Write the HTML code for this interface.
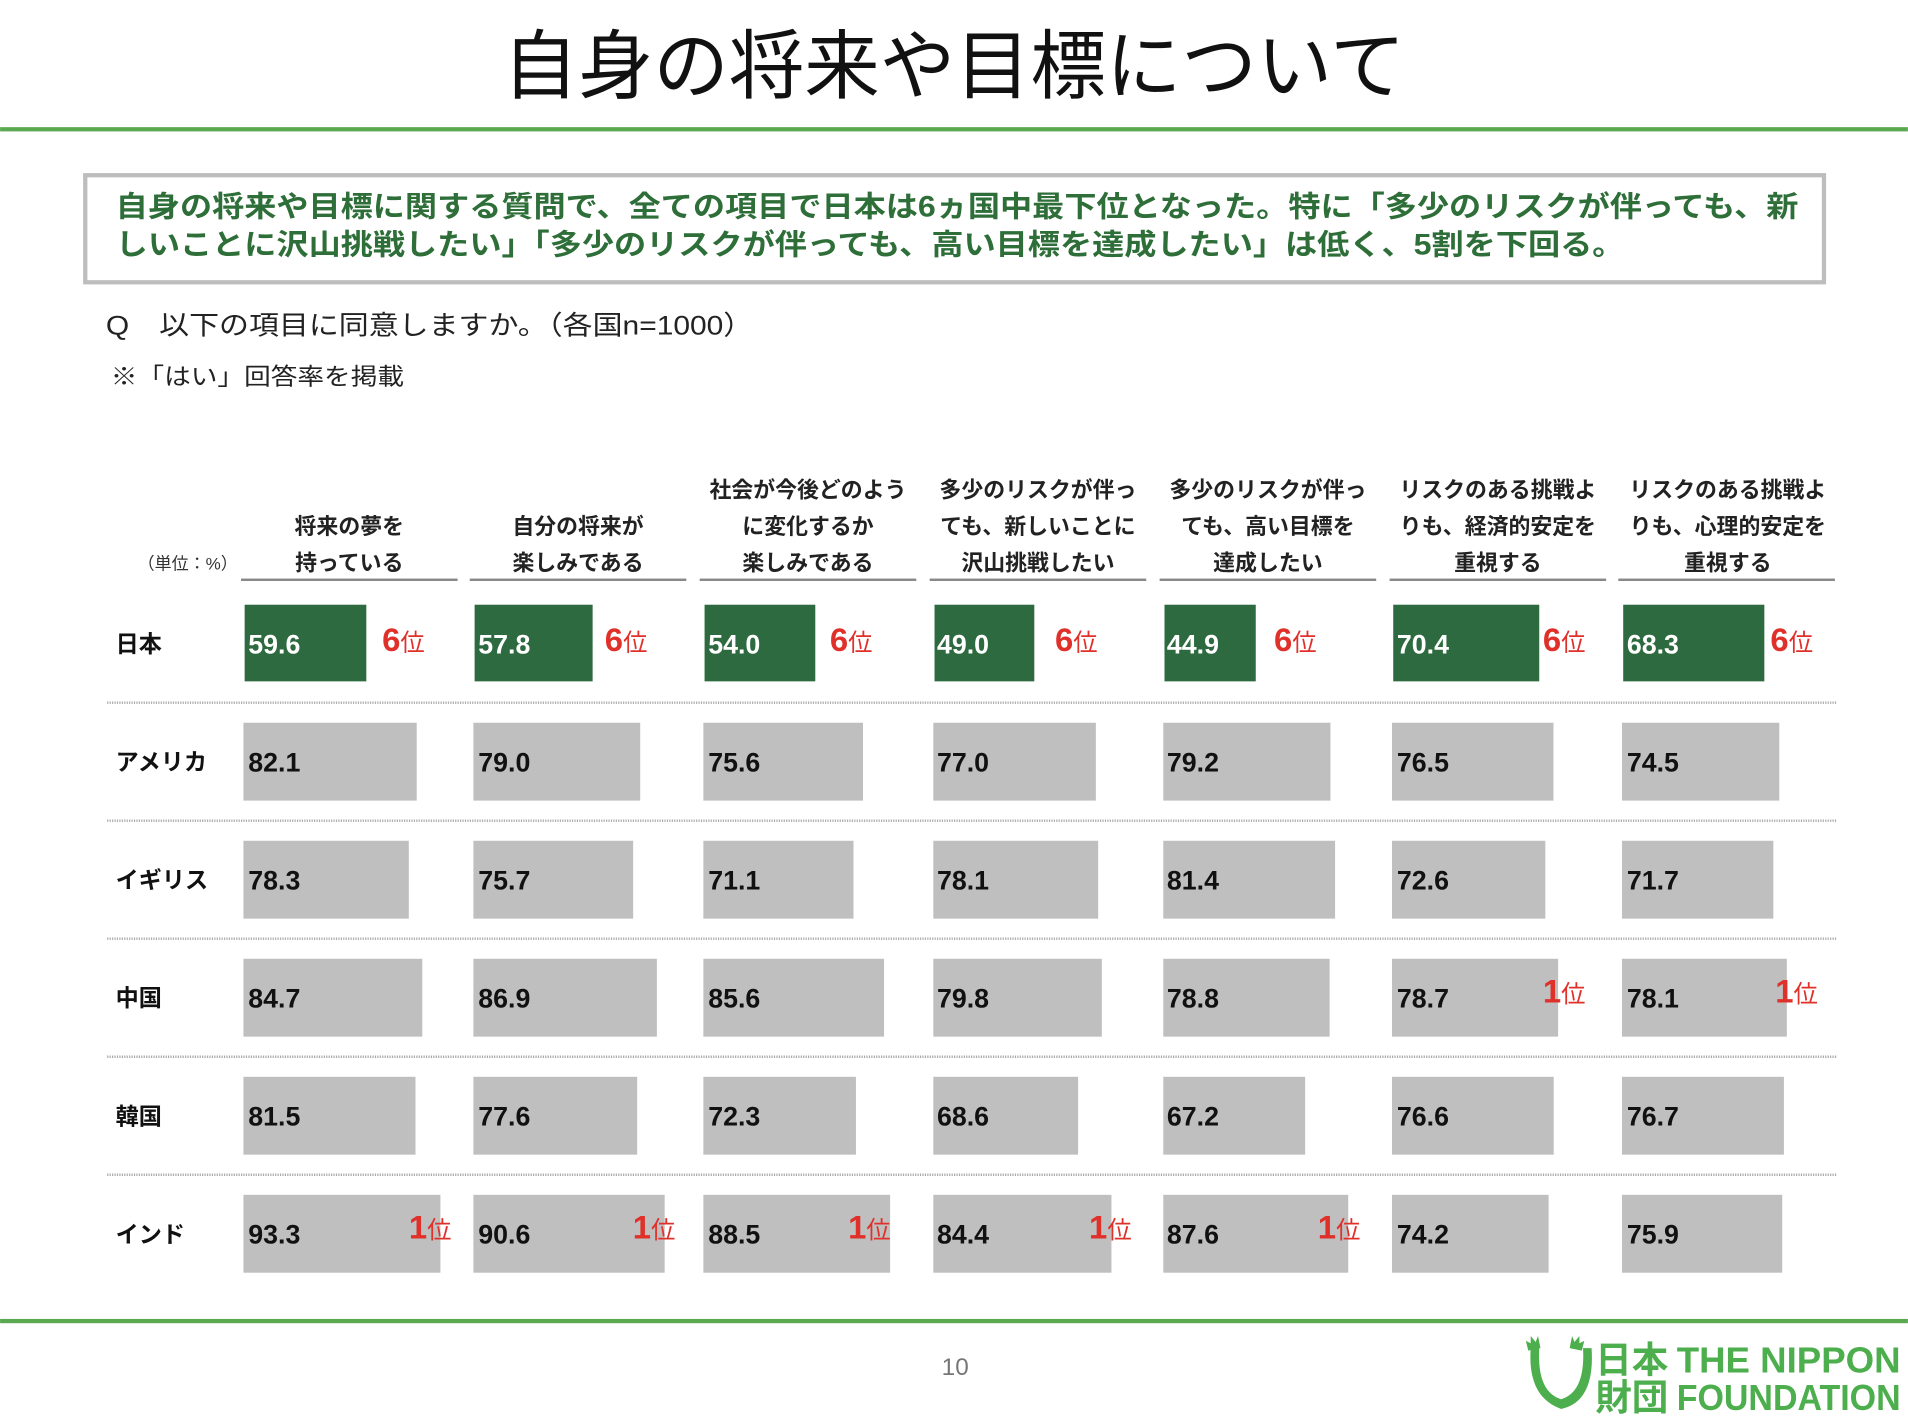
<!DOCTYPE html>
<html><head><meta charset="utf-8"><style>
html,body{margin:0;padding:0;background:#fff;}
svg{display:block;}
text{font-family:"Liberation Sans","Noto Sans CJK JP",sans-serif;}
.h{font-size:18px;font-weight:bold;text-anchor:middle;fill:#222;}
.c{font-size:19px;font-weight:bold;fill:#111;}
.v{font-size:22px;font-weight:bold;fill:#111;}
.w{font-size:22px;font-weight:bold;fill:#fff;}
.g{fill:#bfbfbf;}
.j{fill:#2d6a3f;}
.r{fill:#e0302a;font-weight:bold;font-size:27px;}
.r tspan{font-size:20px;font-weight:normal;}
</style></head><body>
<svg width="1908" height="1426" viewBox="0 0 1568 1172" xmlns="http://www.w3.org/2000/svg">
<rect width="1568" height="1172" fill="#fff"/>
<text x="784" y="76" text-anchor="middle" style="font-size:62px;fill:#111;">自身の将来や目標について</text>
<rect x="0" y="104.5" width="1568" height="3.5" fill="#5aa850"/>
<rect x="70" y="144" width="1429" height="88" fill="#fff" stroke="#bdbdbd" stroke-width="3.5"/>
<text x="95" y="178" textLength="1383" lengthAdjust="spacingAndGlyphs" style="font-size:24px;font-weight:bold;fill:#2e6e38;">自身の将来や目標に関する質問で、全ての項目で日本は6ヵ国中最下位となった。特に「多少のリスクが伴っても、新</text>
<text x="95" y="209" textLength="1240" lengthAdjust="spacingAndGlyphs" style="font-size:24px;font-weight:bold;fill:#2e6e38;">しいことに沢山挑戦したい」「多少のリスクが伴っても、高い目標を達成したい」は低く、5割を下回る。</text>
<text x="87" y="275" textLength="532" lengthAdjust="spacingAndGlyphs" style="font-size:22px;fill:#222;">Q　以下の項目に同意しますか。（各国n=1000）</text>
<text x="91" y="316" textLength="241" lengthAdjust="spacingAndGlyphs" style="font-size:19px;fill:#222;">※「はい」回答率を掲載</text>
<text x="113" y="468" style="font-size:14px;fill:#333;">（単位：%）</text>
<g class="h">
<text x="287" y="439">将来の夢を</text><text x="287" y="469">持っている</text>
<text x="475" y="439">自分の将来が</text><text x="475" y="469">楽しみである</text>
<text x="664" y="409">社会が今後どのよう</text><text x="664" y="439">に変化するか</text><text x="664" y="469">楽しみである</text>
<text x="853" y="409">多少のリスクが伴っ</text><text x="853" y="439">ても、新しいことに</text><text x="853" y="469">沢山挑戦したい</text>
<text x="1042" y="409">多少のリスクが伴っ</text><text x="1042" y="439">ても、高い目標を</text><text x="1042" y="469">達成したい</text>
<text x="1231" y="409">リスクのある挑戦よ</text><text x="1231" y="439">りも、経済的安定を</text><text x="1231" y="469">重視する</text>
<text x="1420" y="409">リスクのある挑戦よ</text><text x="1420" y="439">りも、心理的安定を</text><text x="1420" y="469">重視する</text>
</g>
<g fill="#888">
<rect x="198" y="475.5" width="178" height="2"/><rect x="386" y="475.5" width="178" height="2"/>
<rect x="575" y="475.5" width="178" height="2"/><rect x="764" y="475.5" width="178" height="2"/>
<rect x="953" y="475.5" width="178" height="2"/><rect x="1142" y="475.5" width="178" height="2"/>
<rect x="1330" y="475.5" width="178" height="2"/>
</g>
<g stroke="#aaa" stroke-width="2" stroke-dasharray="1,1">
<line x1="88" y1="577.5" x2="1510" y2="577.5"/><line x1="88" y1="674.5" x2="1510" y2="674.5"/>
<line x1="88" y1="771.5" x2="1510" y2="771.5"/><line x1="88" y1="868.5" x2="1510" y2="868.5"/>
<line x1="88" y1="965.5" x2="1510" y2="965.5"/>
</g>
<g class="c">
<text x="95" y="536">日本</text><text x="95" y="633">アメリカ</text><text x="95" y="730">イギリス</text>
<text x="95" y="827">中国</text><text x="95" y="924">韓国</text><text x="95" y="1021">インド</text>
</g>
<g class="j">
<rect x="201" y="497" width="100" height="63"/><rect x="390" y="497" width="97" height="63"/>
<rect x="579" y="497" width="91" height="63"/><rect x="768" y="497" width="82" height="63"/>
<rect x="957" y="497" width="75" height="63"/><rect x="1145" y="497" width="120" height="63"/>
<rect x="1334" y="497" width="116" height="63"/>
</g>
<g class="w">
<text x="204" y="537">59.6</text><text x="393" y="537">57.8</text><text x="582" y="537">54.0</text>
<text x="770" y="537">49.0</text><text x="959" y="537">44.9</text><text x="1148" y="537">70.4</text>
<text x="1337" y="537">68.3</text>
</g>
<g class="r">
<text x="314" y="535">6<tspan>位</tspan></text><text x="497" y="535">6<tspan>位</tspan></text>
<text x="682" y="535">6<tspan>位</tspan></text><text x="867" y="535">6<tspan>位</tspan></text>
<text x="1047" y="535">6<tspan>位</tspan></text><text x="1268" y="535">6<tspan>位</tspan></text>
<text x="1455" y="535">6<tspan>位</tspan></text>
</g>
<g class="g">
<rect x="200" y="594" width="142.4" height="64"/><rect x="389" y="594" width="137.1" height="64"/>
<rect x="578" y="594" width="131.2" height="64"/><rect x="767" y="594" width="133.6" height="64"/>
<rect x="956" y="594" width="137.4" height="64"/><rect x="1144" y="594" width="132.7" height="64"/>
<rect x="1333" y="594" width="129.3" height="64"/>
<rect x="200" y="691" width="135.9" height="64"/><rect x="389" y="691" width="131.3" height="64"/>
<rect x="578" y="691" width="123.4" height="64"/><rect x="767" y="691" width="135.5" height="64"/>
<rect x="956" y="691" width="141.2" height="64"/><rect x="1144" y="691" width="126" height="64"/>
<rect x="1333" y="691" width="124.4" height="64"/>
<rect x="200" y="788" width="147" height="64"/><rect x="389" y="788" width="150.8" height="64"/>
<rect x="578" y="788" width="148.5" height="64"/><rect x="767" y="788" width="138.5" height="64"/>
<rect x="956" y="788" width="136.7" height="64"/><rect x="1144" y="788" width="136.5" height="64"/>
<rect x="1333" y="788" width="135.5" height="64"/>
<rect x="200" y="885" width="141.4" height="64"/><rect x="389" y="885" width="134.6" height="64"/>
<rect x="578" y="885" width="125.4" height="64"/><rect x="767" y="885" width="119" height="64"/>
<rect x="956" y="885" width="116.6" height="64"/><rect x="1144" y="885" width="132.9" height="64"/>
<rect x="1333" y="885" width="133.1" height="64"/>
<rect x="200" y="982" width="161.9" height="64"/><rect x="389" y="982" width="157.2" height="64"/>
<rect x="578" y="982" width="153.5" height="64"/><rect x="767" y="982" width="146.4" height="64"/>
<rect x="956" y="982" width="152" height="64"/><rect x="1144" y="982" width="128.7" height="64"/>
<rect x="1333" y="982" width="131.7" height="64"/>
</g>
<g class="v">
<text x="204" y="634">82.1</text><text x="393" y="634">79.0</text><text x="582" y="634">75.6</text><text x="770" y="634">77.0</text><text x="959" y="634">79.2</text><text x="1148" y="634">76.5</text><text x="1337" y="634">74.5</text>
<text x="204" y="731">78.3</text><text x="393" y="731">75.7</text><text x="582" y="731">71.1</text><text x="770" y="731">78.1</text><text x="959" y="731">81.4</text><text x="1148" y="731">72.6</text><text x="1337" y="731">71.7</text>
<text x="204" y="828">84.7</text><text x="393" y="828">86.9</text><text x="582" y="828">85.6</text><text x="770" y="828">79.8</text><text x="959" y="828">78.8</text><text x="1148" y="828">78.7</text><text x="1337" y="828">78.1</text>
<text x="204" y="925">81.5</text><text x="393" y="925">77.6</text><text x="582" y="925">72.3</text><text x="770" y="925">68.6</text><text x="959" y="925">67.2</text><text x="1148" y="925">76.6</text><text x="1337" y="925">76.7</text>
<text x="204" y="1022">93.3</text><text x="393" y="1022">90.6</text><text x="582" y="1022">88.5</text><text x="770" y="1022">84.4</text><text x="959" y="1022">87.6</text><text x="1148" y="1022">74.2</text><text x="1337" y="1022">75.9</text>
</g>
<g class="r">
<text x="1268" y="824">1<tspan>位</tspan></text><text x="1459" y="824">1<tspan>位</tspan></text>
<text x="336" y="1018">1<tspan>位</tspan></text><text x="520" y="1018">1<tspan>位</tspan></text>
<text x="697" y="1018">1<tspan>位</tspan></text><text x="895" y="1018">1<tspan>位</tspan></text>
<text x="1083" y="1018">1<tspan>位</tspan></text>
</g>
<rect x="0" y="1084" width="1568" height="3.5" fill="#5aa850"/>
<text x="785" y="1130" text-anchor="middle" style="font-size:20px;fill:#777;">10</text>
<g fill="#4cae4c">
<path d="M1258,1108 q-3,40 25,50 q28,-6 25,-50 l-7,0 q2,36 -18,42 q-20,-6 -18,-42z"/>
<path d="M1256,1110 l-2,-8 l4,2 l0,-6 l4,5 l2,-5 l2,10z M1300,1110 l2,-8 l-4,2 l0,-6 l-4,5 l-2,-5 l-2,10z"/>
<text x="1311" y="1128" style="font-size:30px;font-weight:bold;">日本</text>
<text x="1311" y="1159" style="font-size:30px;font-weight:bold;">財団</text>
<text x="1378" y="1128" style="font-size:30px;font-weight:bold;" textLength="184" lengthAdjust="spacingAndGlyphs">THE NIPPON</text>
<text x="1378" y="1159" style="font-size:30px;font-weight:bold;" textLength="184" lengthAdjust="spacingAndGlyphs">FOUNDATION</text>
</g>
</svg>
</body></html>
